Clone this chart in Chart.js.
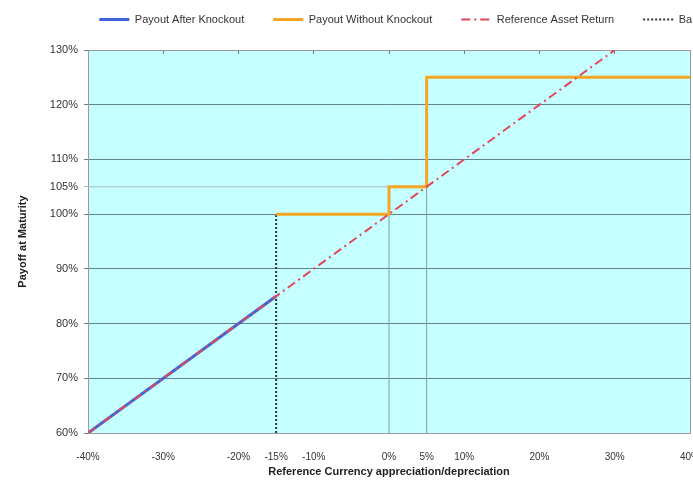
<!DOCTYPE html>
<html>
<head>
<meta charset="utf-8">
<script src="https://cdn.jsdelivr.net/npm/chart.js@4.4.1/dist/chart.umd.min.js"></script>
<style>
  html, body { margin: 0; padding: 0; background: #fff; overflow: hidden; }
  #wrap { width: 811px; height: 483px; }
</style>
</head>
<body>
<div id="wrap"><canvas id="payoff"></canvas></div>
<script>
// tick labels (percent)
const xTicks = [-40, -30, -20, -15, -10, 0, 5, 10, 20, 30, 40];
const yTicks = [60, 70, 80, 90, 100, 105, 110, 120, 130];

// series
const afterKnockoutX = [-40, -15];
const afterKnockoutY = [60, 85];
const withoutKnockoutX = [-15, 0, 0, 5, 5, 40];
const withoutKnockoutY = [100, 100, 105, 105, 125, 125];
const refReturnX = [-40, 30];
const refReturnY = [60, 130];
const barrierX = [-15, -15];
const barrierY = [60, 100];

// thin helper lines (105% level and drop lines at 0% and 5%)
const level105X = [-40, 5];
const level105Y = [105, 105];
const drop0X = [0, 0];
const drop0Y = [60, 100];
const drop5X = [5, 5];
const drop5Y = [60, 105];

const pts = (xs, ys) => xs.map((x, i) => ({ x: x, y: ys[i] }));

Chart.defaults.font.family = "'Liberation Sans', Arial, sans-serif";
Chart.defaults.font.size = 11;
Chart.defaults.color = "#333";

const plotBg = {
  id: "plotBg",
  beforeDraw(chart) {
    const a = chart.chartArea;
    const ctx = chart.ctx;
    ctx.save();
    ctx.fillStyle = "#c6ffff";
    ctx.fillRect(a.left, a.top, a.right - a.left, a.bottom - a.top);
    ctx.restore();
  }
};

// fixed legend height, then nudge it up
const legendBox = {
  id: "legendBox",
  beforeInit(chart) {
    const fit = chart.legend.fit;
    chart.legend.fit = function () {
      fit.bind(chart.legend)();
      this.height = 50;
    };
  },
  afterLayout(chart) {
    chart.legend.top -= 15;
    chart.legend.bottom -= 15;
  }
};

const line = (label, xs, ys, color, width, dash, order) => ({
  label: label,
  data: pts(xs, ys),
  borderColor: color,
  backgroundColor: color,
  borderWidth: width,
  borderDash: dash,
  pointRadius: 0,
  fill: false,
  tension: 0,
  order: order
});

// legend lines keep the dataset's dash pattern
function legendLabels(chart) {
  const items = Chart.defaults.plugins.legend.labels.generateLabels(chart);
  return items.map(it => {
    const ds = chart.data.datasets[it.datasetIndex];
    it.pointStyle = "line";
    it.lineDash = ds.borderDash;
    it.strokeStyle = ds.borderColor;
    it.lineWidth = ds.borderWidth;
    return it;
  });
}

new Chart(document.getElementById("payoff"), {
  type: "line",
  data: {
    datasets: [
      line("Payout After Knockout", afterKnockoutX, afterKnockoutY, "#3a64d8", 3, [], 1),
      line("Payout Without Knockout", withoutKnockoutX, withoutKnockoutY, "#f5a623", 3, [], 2),
      line("Reference Asset Return", refReturnX, refReturnY, "#e0485a", 2, [9, 4, 2, 4], 0),
      line("Barrier", barrierX, barrierY, "#333333", 2, [2, 2], 3),
      line("", level105X, level105Y, "#a3bcc2", 1, [], 5),
      line("", drop0X, drop0Y, "#7f9ea6", 1, [], 5),
      line("", drop5X, drop5Y, "#7f9ea6", 1, [], 5)
    ]
  },
  options: {
    responsive: true,
    maintainAspectRatio: false,
    animation: false,
    layout: { padding: 0 },
    plugins: {
      legend: {
        position: "top",
        labels: {
          usePointStyle: true,
          pointStyle: "line",
          pointStyleWidth: 30,
          boxWidth: 30,
          padding: 29,
          color: "#333",
          font: { size: 11 },
          generateLabels: legendLabels,
          filter: item => item.text !== "",
          sort: (a, b) => a.datasetIndex - b.datasetIndex
        }
      },
      tooltip: { enabled: false }
    },
    scales: {
      x: {
        type: "linear",
        position: "bottom",
        min: -40,
        max: 40,
        afterBuildTicks: s => { s.ticks = xTicks.map(v => ({ value: v })); },
        afterFit: s => { s.height = 50; },
        ticks: { callback: v => v + "%", padding: 10, maxRotation: 0, color: "#333", font: { size: 10 } },
        grid: { display: false },
        border: { display: true, color: "#9a9a9a", width: 1 },
        title: {
          display: true,
          text: "Reference Currency appreciation/depreciation",
          font: { size: 11, weight: "bold" },
          color: "#222",
          padding: { top: 0, bottom: 4 }
        }
      },
      x2: {
        type: "linear",
        position: "top",
        min: -40,
        max: 40,
        ticks: { display: false, stepSize: 10 },
        afterFit: s => { s.height = 0; },
        grid: { drawOnChartArea: false, drawTicks: true, tickLength: -4, tickColor: "#777" },
        border: { display: true, color: "#9a9a9a", width: 1 }
      },
      y: {
        type: "linear",
        position: "left",
        min: 60,
        max: 130,
        afterBuildTicks: s => { s.ticks = yTicks.map(v => ({ value: v })); },
        afterFit: s => { s.width = 88; },
        ticks: { callback: v => v + "%", padding: 6, color: "#333" },
        grid: {
          color: c => (c.tick && c.tick.value === 105 ? "rgba(0,0,0,0)" : "#62828c"),
          tickColor: c => (c.tick && c.tick.value === 105 ? "#a3bcc2" : "#62828c"),
          tickLength: 4,
          lineWidth: 1
        },
        border: { display: true, color: "#9a9a9a", width: 1 },
        title: {
          display: true,
          text: "Payoff at Maturity",
          font: { size: 11, weight: "bold" },
          color: "#222",
          padding: { top: 16, bottom: 0 }
        }
      },
      y2: {
        type: "linear",
        position: "right",
        min: 60,
        max: 130,
        ticks: { display: false },
        grid: { display: false },
        afterFit: s => { s.width = 811 - 690; },
        border: { display: true, color: "#9a9a9a", width: 1 }
      }
    }
  },
  plugins: [plotBg, legendBox]
});
</script>
</body>
</html>
